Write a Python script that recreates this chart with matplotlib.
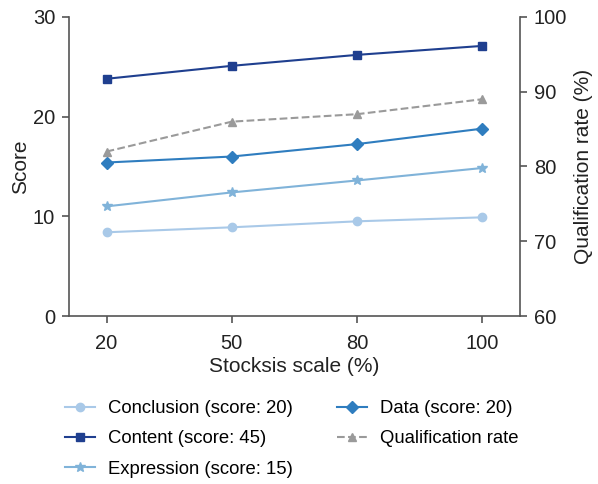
import matplotlib
matplotlib.use("Agg")
import matplotlib.pyplot as plt

plt.rcParams['font.family'] = ['Liberation Sans', 'DejaVu Sans']

categories = ["20", "50", "80", "100"]
conclusion = [8.4, 8.9, 9.5, 9.9]
content = [23.8, 25.1, 26.2, 27.1]
expression = [11.0, 12.4, 13.6, 14.85]
data_s = [15.4, 16.0, 17.25, 18.8]
qual_rate = [82, 86, 87, 89]

fig = plt.figure(figsize=(5.98, 4.84), dpi=100)
ax = fig.add_axes([0.1154, 0.3471, 0.7542, 0.6178])
ax2 = ax.twinx()

x = list(range(len(categories)))
axis_col = '#555555'
h1, = ax.plot(x, conclusion, color='#a9c9e8', marker='o', ms=6, lw=1.5, label='Conclusion (score: 20)')
h2, = ax.plot(x, content, color='#1f3f8f', marker='s', ms=6, lw=1.5, label='Content (score: 45)')
h3, = ax.plot(x, expression, color='#80b3d9', marker='*', ms=7, lw=1.5, label='Expression (score: 15)')
h4, = ax.plot(x, data_s, color='#2f7dbf', marker='D', ms=6, lw=1.5, label='Data (score: 20)')
h5, = ax2.plot(x, qual_rate, color='#9a9a9a', marker='^', ms=6, lw=1.5, ls='--', label='Qualification rate')

ax.set_xlim(-0.3, 3.3)
ax.set_ylim(0, 30)
ax.set_yticks([0, 10, 20, 30])
ax2.set_ylim(60, 100)
ax2.set_yticks([60, 70, 80, 90, 100])
ax.set_xticks(x)
ax.set_xticklabels(categories)

for a in (ax, ax2):
    a.spines['top'].set_visible(False)
    for s in ['left', 'right', 'bottom']:
        a.spines[s].set_color(axis_col)
        a.spines[s].set_linewidth(1.2)
    a.tick_params(colors=axis_col, labelcolor='#222222', labelsize=14.5, length=5, width=1.2,
                  direction='out', pad=5)
ax.tick_params(axis='x', pad=8)
ax.spines['right'].set_visible(False)
ax2.spines['left'].set_visible(False)
ax2.spines['bottom'].set_visible(False)

ax.set_xlabel('Stocksis scale (%)', fontsize=15, color='#222222', labelpad=3)
ax.set_ylabel('Score', fontsize=15, color='#222222', labelpad=2)
ax2.set_ylabel('Qualification rate (%)', fontsize=15, color='#222222', labelpad=5)

fig.legend(handles=[h1, h2, h3, h4, h5], loc='upper left', bbox_to_anchor=(0.1, 0.185), ncol=2,
           frameon=False, fontsize=13.3, handlelength=1.6, handletextpad=0.7,
           columnspacing=2.4, labelspacing=0.72, borderaxespad=0, borderpad=0.3)

fig.savefig('out.png', dpi=100)
